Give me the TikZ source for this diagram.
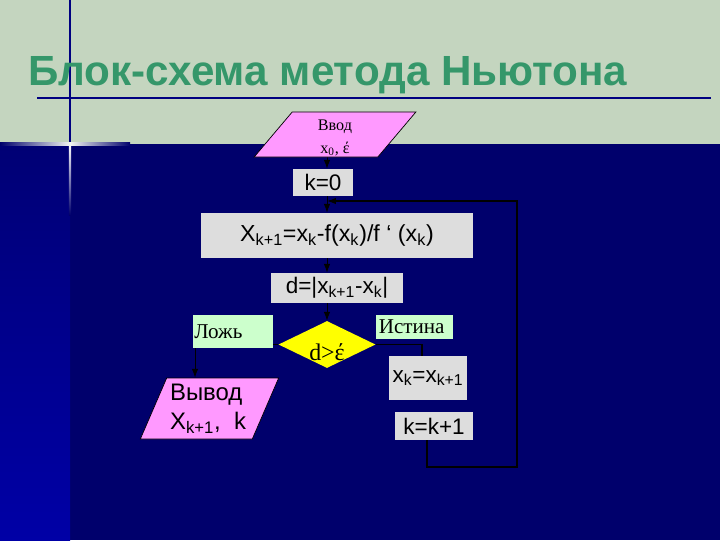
\documentclass[tikz,border=0pt]{standalone}
\usepackage{fontspec}
\setmainfont{Liberation Serif}
\setsansfont{Liberation Sans}
\usepackage{xcolor}
\usepackage{tikz}
\usetikzlibrary{arrows.meta,positioning,calc,shapes.geometric,backgrounds}
\definecolor{Navy}{HTML}{00006C}
\definecolor{NavyLight}{HTML}{0000A6}
\definecolor{Rule}{HTML}{000080}
\definecolor{Band}{HTML}{C4D5BF}
\definecolor{TitleGreen}{HTML}{35976A}
\definecolor{Pink}{HTML}{FF99FF}
\definecolor{Grey}{HTML}{DDDDDD}
\definecolor{Mint}{HTML}{CCFFCC}
\definecolor{Sun}{HTML}{FFFF00}
\pgfdeclarelayer{backdrop}
\pgfdeclarelayer{wires}
\pgfsetlayers{backdrop,wires,main}

\begin{document}
\begin{tikzpicture}[x=0.025cm,y=-0.025cm,
  io/.style={trapezium,trapezium stretches=true,draw=black,fill=Pink,line width=0.5pt,inner sep=1pt,align=center},
  calc/.style={rectangle,fill=Grey,inner sep=2pt,font=\sffamily\fontsize{16}{18}\selectfont,text=black},
  flag/.style={rectangle,fill=Mint,inner sep=0pt,font=\fontsize{15}{17}\selectfont,text=black,align=left},
  test/.style={diamond,fill=Sun,inner sep=0pt,font=\fontsize{17}{19}\selectfont,text=black},
  arrow/.style={-{Latex[length=2.2mm,width=1.6mm]},line width=0.6pt,black},
  wire/.style={line width=0.9pt,black}
]
\useasboundingbox (0,0) rectangle (720,540);

% backdrop of the slide
\begin{pgfonlayer}{backdrop}
\fill[Navy] (0,144) rectangle (720,540);
\shade[top color=Navy!85!NavyLight,bottom color=NavyLight] (0,144) rectangle (70,540);
\fill[Band] (0,0) rectangle (720,144);
\draw[Rule,line width=1.5pt] (37,98) -- (711,98);
\draw[Rule,line width=1.5pt] (70,0) -- (70,144);
\shade[top color=white,bottom color=Navy] (68.8,144) rectangle (71.2,215);
\shade[left color=Navy,right color=white!80!Band] (0,142.8) rectangle (70,145.2);
\shade[left color=white!80!Band,right color=Navy] (70,142.8) rectangle (130,145.2);
\end{pgfonlayer}

\node[anchor=base west,font=\sffamily\bfseries\fontsize{30}{34}\selectfont,text=TitleGreen,inner sep=0pt] (title) at (28,85) {Блок-схема метода Ньютона};

\node[io,trapezium left angle=57,trapezium right angle=123,minimum width=4.05cm,minimum height=1.125cm,font=\fontsize{11.5}{16}\selectfont] (input) at (335,134.5) {\smash{\raisebox{-1ex}{Ввод}}\\\smash{\raisebox{-1ex}{x\textsubscript{0}, έ}}};
\node[calc,minimum width=1.5cm,minimum height=0.675cm] (kzero) at (323,182.5) {k=0};
\node[calc,minimum width=6.8cm,minimum height=1.125cm,font=\sffamily\fontsize{16.5}{18}\selectfont] (newton) at (337,235.5) {X\textsubscript{k+1}=x\textsubscript{k}-f(x\textsubscript{k})/f ‘ (x\textsubscript{k})};
\node[calc,minimum width=3.3cm,minimum height=0.75cm] (dist) at (337,288) {d=|x\textsubscript{k+1}-x\textsubscript{k}|};
\node[test,minimum width=2.425cm,minimum height=1.175cm] (check) at (327,344.5) {\smash{\raisebox{-1.5ex}{d>έ}}};
\node[flag,text width=2.0cm,minimum height=0.825cm] (false) at (233,331.5) {\hspace*{1pt}Ложь};
\node[flag,text width=1.925cm,minimum height=0.6cm] (true) at (414.5,327) {\hspace*{2pt}\raisebox{-0.5ex}{Истина}};
\node[io,trapezium left angle=66,trapezium right angle=114,minimum width=3.475cm,minimum height=1.525cm,font=\sffamily\fontsize{17}{21}\selectfont,align=left] (output) at (209.5,408.5) {\hspace*{-2pt}Вывод\\\hspace*{-2pt}X\textsubscript{k+1}, \ k};
\node[calc,minimum width=1.95cm,minimum height=1.1cm] (update) at (428,378) {x\textsubscript{k}=x\textsubscript{k+1}};
\node[calc,minimum width=1.95cm,minimum height=0.7cm] (incr) at (434,426) {k=k+1};

\coordinate (loopturn) at (517,467);
\coordinate (loopin) at (327,201);

\begin{pgfonlayer}{wires}
\draw[arrow] (input.south -| check.north) -- (kzero.north -| check.north);
\draw[arrow] (kzero.south -| check.north) -- (newton.north -| check.north);
\draw[arrow] (newton.south -| check.north) -- (dist.north -| check.north);
\draw[arrow] (dist.south -| check.north) -- (check.north);
\draw[wire] (check.west) -- (195,344.5) coordinate (fturn);
\draw[arrow] (fturn) -- (fturn |- output.north);
\draw[wire] (check.east) -- (422,344.5) coordinate (tturn) -- (tturn |- update.north);
\draw[wire,-{Latex[length=2.2mm,width=1.6mm]}] ([xshift=-5pt]incr.south) -- ([xshift=-5pt]incr.south |- loopturn) -- (loopturn) |- (loopin);
\end{pgfonlayer}
\end{tikzpicture}
\end{document}
